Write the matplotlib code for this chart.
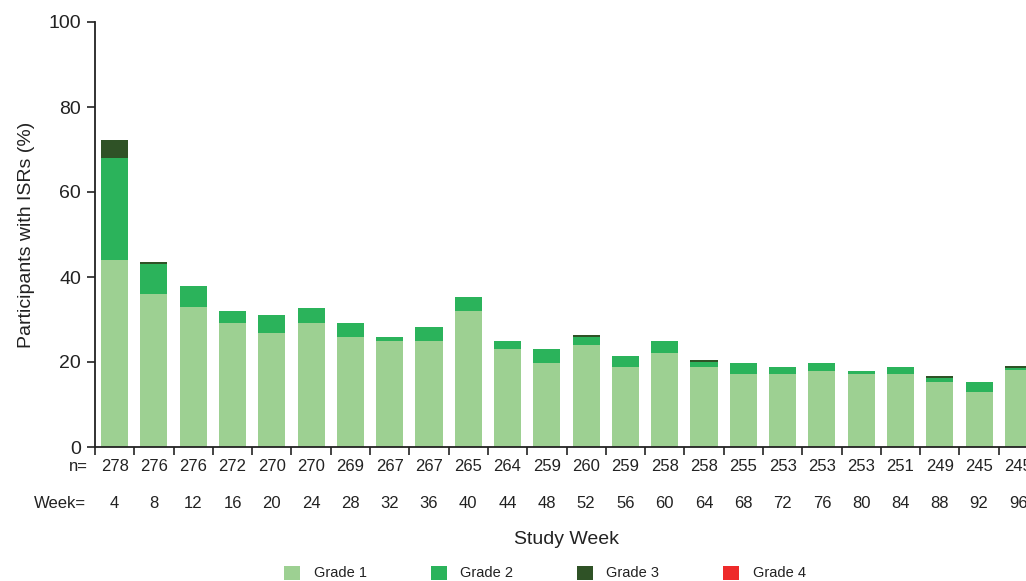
import matplotlib
matplotlib.use("Agg")
import matplotlib.pyplot as plt
from matplotlib.patches import Patch
import numpy as np

plt.rcParams['font.family'] = ['Liberation Sans', 'DejaVu Sans']

weeks = [4, 8, 12, 16, 20, 24, 28, 32, 36, 40, 44, 48, 52, 56, 60, 64, 68, 72, 76, 80, 84, 88, 92, 96]
n_values = [278, 276, 276, 272, 270, 270, 269, 267, 267, 265, 264, 259, 260, 259, 258, 258, 255, 253, 253, 253, 251, 249, 245, 245]
grade1 = [44.0, 36.1, 32.9, 29.2, 26.8, 29.2, 25.9, 24.9, 24.9, 31.9, 23.1, 19.8, 24.1, 18.9, 22.2, 18.9, 17.1, 17.1, 18.0, 17.1, 17.1, 15.2, 12.9, 18.1]
grade2 = [24.1, 7.0, 5.1, 2.7, 4.2, 3.6, 3.3, 0.9, 3.3, 3.3, 1.8, 3.3, 1.9, 2.4, 2.7, 1.1, 2.7, 1.8, 1.8, 0.9, 1.8, 1.0, 2.3, 0.5]
grade3 = [4.2, 0.4, 0.0, 0.0, 0.0, 0.0, 0.0, 0.0, 0.0, 0.0, 0.0, 0.0, 0.4, 0.0, 0.0, 0.4, 0.0, 0.0, 0.0, 0.0, 0.0, 0.4, 0.0, 0.4]
grade4 = [0.0] * 24
legend_labels = ["Grade 1", "Grade 2", "Grade 3", "Grade 4"]
colors = ["#9dd092", "#2bb35b", "#2f5226", "#ee2a2a"]

fig = plt.figure(figsize=(10.26, 5.81), dpi=100)
ax = fig.add_axes([95/1026, (581-447)/581, 943/1026, 425/581])

x = np.arange(len(weeks))
w = 0.69
g1 = np.array(grade1); g2 = np.array(grade2); g3 = np.array(grade3); g4 = np.array(grade4)
ax.bar(x, g1, w, color=colors[0], edgecolor='none')
ax.bar(x, g2, w, bottom=g1, color=colors[1], edgecolor='none')
ax.bar(x, g3, w, bottom=g1+g2, color=colors[2], edgecolor='none')
ax.bar(x, g4, w, bottom=g1+g2+g3, color=colors[3], edgecolor='none')

ax.set_xlim(-0.5, len(weeks) - 0.5)
ax.set_ylim(0, 100)
ax.set_yticks([0, 20, 40, 60, 80, 100])
ax.tick_params(axis='y', labelsize=14, length=6, width=1.2, colors='#222222', pad=4)
ax.set_xticks(np.arange(-0.5, len(weeks), 1.0))
ax.set_xticklabels([])
ax.tick_params(axis='x', length=6, width=1.2, colors='#222222')
for s in ['top', 'right']:
    ax.spines[s].set_visible(False)
for s in ['left', 'bottom']:
    ax.spines[s].set_linewidth(1.3)
    ax.spines[s].set_color('#222222')

ax.set_ylabel("Participants with ISRs (%)", fontsize=14, color='#222222', labelpad=10)

trans = ax.get_xaxis_transform()
for xi, nv, wk in zip(x, n_values, weeks):
    ax.text(xi, -0.047, str(nv), transform=trans, ha='center', va='center', fontsize=12, color='#222222', clip_on=False)
    ax.text(xi, -0.132, str(wk), transform=trans, ha='center', va='center', fontsize=12, color='#222222', clip_on=False)
ax.text(-0.68, -0.047, "n=", transform=trans, ha='right', va='center', fontsize=12, color='#222222')
ax.text(-0.73, -0.132, "Week=", transform=trans, ha='right', va='center', fontsize=12, color='#222222')

fig.text(567/1026, 1 - 540/581, "Study Week", ha='center', va='center', fontsize=14, color='#222222')

handles = [Patch(facecolor=c, edgecolor='none') for c in colors]
fig.legend(handles, legend_labels, loc='center', bbox_to_anchor=(545/1026, 1 - 573/581), ncol=4,
           frameon=False, fontsize=10.5, handlelength=1.1, handleheight=1.1, handletextpad=0.9,
           columnspacing=4.4, labelcolor='#222222')

fig.savefig("out.png", dpi=100)
